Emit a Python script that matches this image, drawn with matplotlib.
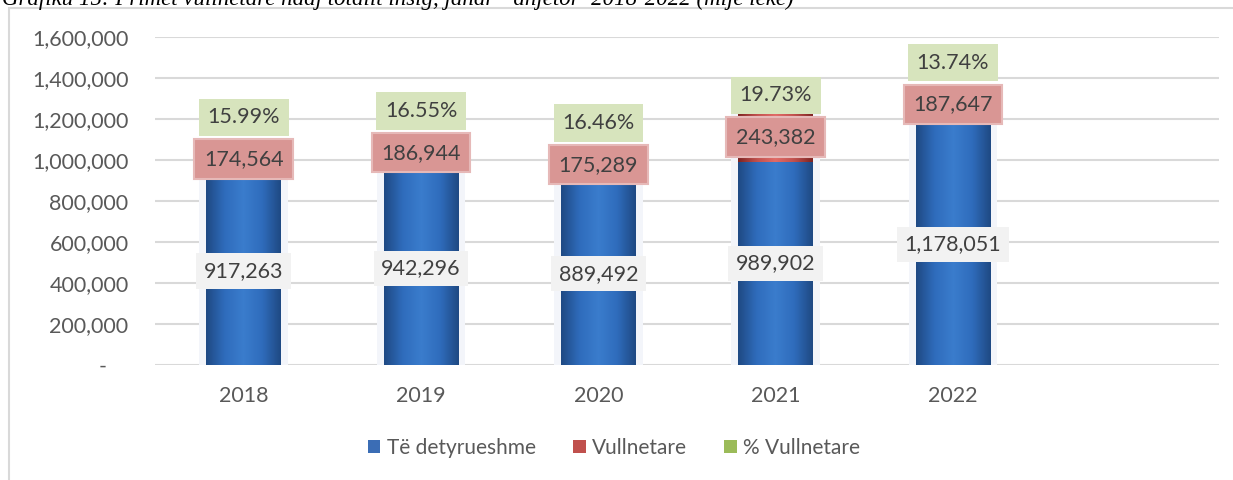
import numpy as np
import matplotlib
matplotlib.use("Agg")
import matplotlib.pyplot as plt
from matplotlib.patches import Rectangle, Patch
from matplotlib.colors import LinearSegmentedColormap
from matplotlib.ticker import FuncFormatter

plt.rcParams['font.family'] = ['Lato', 'DejaVu Sans']

# Data (mijë lekë)
years = ['2018', '2019', '2020', '2021', '2022']
detyrueshme = [917263, 942296, 889492, 989902, 1178051]
vullnetare = [174564, 186944, 175289, 243382, 187647]
pct_vullnetare = [15.99, 16.55, 16.46, 19.73, 13.74]

title = "Grafiku 15: Primet vullnetare ndaj totalit insig, janar - dhjetor  2018-2022 (mijë lekë)"

W, H = 1233, 480
fig = plt.figure(figsize=(W / 100, H / 100), dpi=100)

# outer chart frame (cut off at right and bottom)
fig.patches.append(Rectangle((9 / W, -0.1), 1.2, 1 - 8 / H + 0.1, transform=fig.transFigure,
                             fill=False, ec='#d9d9d9', lw=1.5))
fig.text(2 / W, 1 - 5 / H, title, family='Liberation Serif', style='italic',
         fontsize=16.5, va='baseline', ha='left', color='black')

ax = fig.add_axes([155 / W, 1 - 365 / H, (1219 - 155) / W, (365 - 37) / H])
x = np.arange(len(years))
bw = 0.42

det = np.array(detyrueshme)
vol = np.array(vullnetare)
pct = np.array(pct_vullnetare)

# soft glow behind bars
ax.bar(x, det + vol, width=0.5, color='#f3f5fa', zorder=1)

blue_bars = ax.bar(x, det, width=bw, color='#2f6cbc', zorder=2)
red_bars = ax.bar(x, vol, width=bw, bottom=det, color='#c0504d', zorder=2)
ax.bar(x, pct, width=bw, bottom=det + vol, color='#9bbb59', zorder=2)

# horizontal gradient on the bars
grad = np.linspace(0, 1, 64)
grad = 1 - np.abs(grad - 0.5) * 2
cmap_b = LinearSegmentedColormap.from_list('b', ['#1f4a84', '#2f6cbc', '#3a7ccc'])
cmap_r = LinearSegmentedColormap.from_list('r', ['#7f2422', '#c0504d', '#e06a66'])
for bars, cmap in ((blue_bars, cmap_b), (red_bars, cmap_r)):
    for b in bars:
        x0, y0 = b.get_x(), b.get_y()
        im = ax.imshow(grad[None, :], cmap=cmap, aspect='auto', zorder=2.5,
                       extent=[x0, x0 + b.get_width(), y0, y0 + b.get_height()])
        im.set_clip_path(b)

ax.set_xlim(-0.5, 5.5)
ax.set_ylim(0, 1600000)
ax.set_yticks(np.arange(0, 1600001, 200000))
ax.yaxis.set_major_formatter(FuncFormatter(lambda v, p: '-    ' if v == 0 else f'{v:,.0f}'))
ax.set_xticks(x)
ax.set_xticklabels(years)
ax.tick_params(axis='both', length=0, labelsize=15.5, labelcolor='#595959')
ax.tick_params(axis='y', pad=19)
ax.tick_params(axis='x', pad=15)
for s in ax.spines.values():
    s.set_visible(False)
ax.grid(axis='y', color='#d9d9d9', lw=1.5)
ax.set_axisbelow(True)

# data labels
for i in range(len(years)):
    ax.text(x[i], det[i] / 2, f'{det[i]:,}', ha='center', va='center', fontsize=15.5,
            color='#404040', zorder=5,
            bbox=dict(boxstyle='square,pad=0.35', fc='#f2f2f2', ec='none'))
    red_c = det[i] + vol[i] / 2
    ax.text(x[i], red_c, f'{vol[i]:,}', ha='center', va='center', fontsize=15.5,
            color='#404040', zorder=5,
            bbox=dict(boxstyle='square,pad=0.45', fc='#d99694', ec='#e6b9b8', lw=1.5))
    ax.annotate(f'{pct[i]:.2f}%', xy=(x[i], red_c), xytext=(0, 30), textcoords='offset points',
                ha='center', va='center', fontsize=15.5, color='#404040', zorder=6,
                bbox=dict(boxstyle='square,pad=0.4', fc='#d7e4bd', ec='none'))

handles = [Patch(fc='#3b6db5'), Patch(fc='#c0504d'), Patch(fc='#9bbb59')]
fig.legend(handles, ['Të detyrueshme', 'Vullnetare', '% Vullnetare'],
           loc='center', bbox_to_anchor=(614 / W, 1 - 448 / H), ncol=3, frameon=False,
           fontsize=15, labelcolor='#595959', handlelength=0.6, handleheight=0.6,
           handletextpad=0.3, columnspacing=1.8)

fig.savefig('out.png', dpi=100)
